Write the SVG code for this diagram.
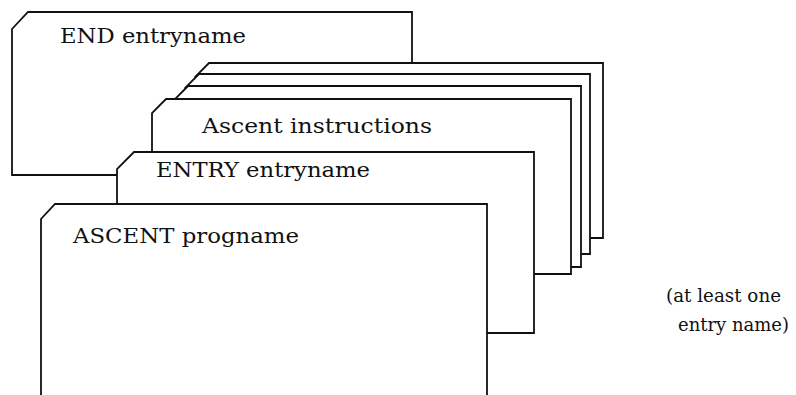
<svg xmlns="http://www.w3.org/2000/svg" width="796" height="395" viewBox="0 0 796 395">
  <style>
    .card { fill: #fff; stroke: #111; stroke-width: 1.8; stroke-linejoin: miter; }
    .lbl { font-family: "DejaVu Serif", "Liberation Serif", serif; font-size: 21px; fill: #111; }
    .note { font-family: "DejaVu Serif", "Liberation Serif", serif; font-size: 18px; fill: #111; }
  </style>
  <rect width="796" height="395" fill="#fff"/>

  <!-- deck of cards, drawn back to front -->
  <g id="card-end">
    <polygon class="card" points="28,12 412,12 412,175 12,175 12,29"/>
    <text class="lbl" x="60" y="43" textLength="186" lengthAdjust="spacingAndGlyphs">END entryname</text>
  </g>

  <g id="card-ascent-4">
    <polygon class="card" points="209,63 603,63 603,238 195,238 195,77"/>
  </g>
  <g id="card-ascent-3">
    <polygon class="card" points="199,74 590,74 590,254 185,254 185,88"/>
  </g>
  <g id="card-ascent-2">
    <polygon class="card" points="188,86 581,86 581,267 174,267 174,100"/>
  </g>
  <g id="card-ascent-1">
    <polygon class="card" points="166,99 571,99 571,274 152,274 152,113"/>
    <text class="lbl" x="202" y="133" textLength="230" lengthAdjust="spacingAndGlyphs">Ascent instructions</text>
  </g>

  <g id="card-entry">
    <polygon class="card" points="134,152 534,152 534,333 117,333 117,169"/>
    <text class="lbl" x="156" y="177" textLength="214" lengthAdjust="spacingAndGlyphs">ENTRY entryname</text>
  </g>

  <g id="card-ascent-head">
    <polygon class="card" points="55,204 487,204 487,400 41,400 41,219"/>
    <text class="lbl" x="73" y="243" textLength="226" lengthAdjust="spacingAndGlyphs">ASCENT progname</text>
  </g>

  <g id="note">
    <text class="note" x="666" y="302" textLength="115" lengthAdjust="spacingAndGlyphs">(at least one</text>
    <text class="note" x="678" y="331" textLength="111" lengthAdjust="spacingAndGlyphs">entry name)</text>
  </g>

  <!-- no connectors in this drawing -->
  <g id="connectors"/>
</svg>
